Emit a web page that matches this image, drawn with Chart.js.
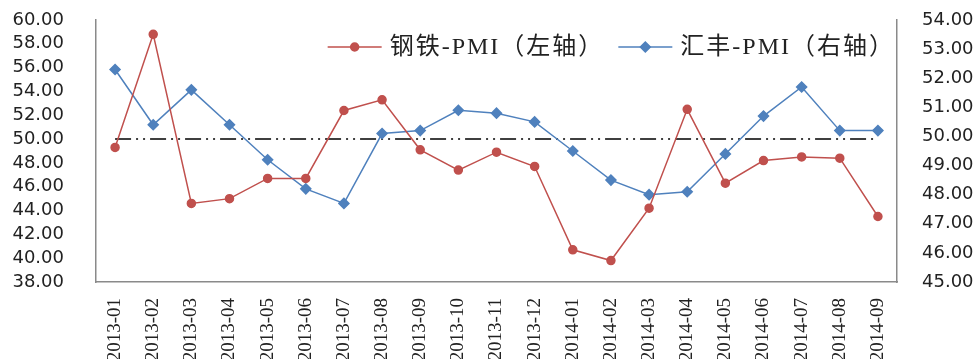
<!DOCTYPE html>
<html lang="zh">
<head>
<meta charset="utf-8">
<title>钢铁PMI与汇丰PMI</title>
<script src="https://cdn.jsdelivr.net/npm/chart.js"></script>
<style>
  html, body { margin: 0; padding: 0; background: #fff; }
  #pmiChart { display: block; }
</style>
</head>
<body>
<canvas id="pmiChart" width="978" height="359"></canvas>
<script>
  const months = [
    '2013-01', '2013-02', '2013-03', '2013-04', '2013-05', '2013-06', '2013-07',
    '2013-08', '2013-09', '2013-10', '2013-11', '2013-12', '2014-01', '2014-02',
    '2014-03', '2014-04', '2014-05', '2014-06', '2014-07', '2014-08', '2014-09'
  ];
  // 钢铁PMI, left axis
  const steelPmi = [49.3, 58.8, 44.6, 45.0, 46.7, 46.7, 52.4, 53.3, 49.1, 47.4, 48.9,
                    47.7, 40.7, 39.8, 44.2, 52.5, 46.3, 48.2, 48.5, 48.4, 43.5];
  // 汇丰PMI, right axis
  const hsbcPmi = [52.3, 50.4, 51.6, 50.4, 49.2, 48.2, 47.7, 50.1, 50.2, 50.9, 50.8,
                   50.5, 49.5, 48.5, 48.0, 48.1, 49.4, 50.7, 51.7, 50.2, 50.2];
  // 50 = boom/bust line
  const neutralLine = months.map(() => 50);
  const leftRange = [38, 60, 2];   // min, max, step
  const rightRange = [45, 54, 1];

  const red = '#C0504D';
  const blue = '#4F81BD';
  const tickFont = { family: "'DejaVu Sans', Verdana, sans-serif", size: 18 };

  // no extra room above/below the plot for the end tick labels
  function pinAxis(width) {
    return scale => {
      scale.width = width;
      scale.paddingTop = 0;
      scale.paddingBottom = 0;
    };
  }

  // line + marker legend drawn inside the plot, top right
  const lineLegend = {
    id: 'lineLegend',
    afterDraw(chart) {
      const ctx = chart.ctx;
      const items = chart.data.datasets.filter(d => d.showInLegend);
      const lineLen = 54, gap = 8, itemGap = 14;
      const y = 47;
      ctx.save();
      ctx.font = "24px 'Liberation Serif', 'Noto Sans CJK SC', serif";
      ctx.letterSpacing = '2px';
      ctx.textBaseline = 'middle';
      let total = 0;
      items.forEach((d, i) => {
        total += lineLen + gap + ctx.measureText(d.label).width + (i ? itemGap : 0);
      });
      let x = chart.chartArea.right - 2 - total;
      items.forEach(d => {
        ctx.strokeStyle = d.borderColor;
        ctx.fillStyle = d.pointBackgroundColor;
        ctx.lineWidth = d.borderWidth;
        ctx.beginPath();
        ctx.moveTo(x, y);
        ctx.lineTo(x + lineLen, y);
        ctx.stroke();
        Chart.helpers.drawPoint(ctx, { pointStyle: d.pointStyle, radius: d.pointRadius, borderWidth: 1 }, x + lineLen / 2, y);
        x += lineLen + gap;
        ctx.fillStyle = '#222';
        ctx.fillText(d.label, x, y + 1);
        x += ctx.measureText(d.label).width + itemGap;
      });
      ctx.restore();
    }
  };

  new Chart(document.getElementById('pmiChart'), {
    type: 'line',
    data: {
      labels: months,
      datasets: [
        {
          label: '钢铁-PMI（左轴）',
          data: steelPmi,
          yAxisID: 'y',
          showInLegend: true,
          borderColor: red,
          backgroundColor: red,
          pointBackgroundColor: red,
          pointBorderColor: red,
          borderWidth: 1.5,
          pointStyle: 'circle',
          pointRadius: 4,
          tension: 0
        },
        {
          label: '汇丰-PMI（右轴）',
          data: hsbcPmi,
          yAxisID: 'y1',
          showInLegend: true,
          borderColor: blue,
          backgroundColor: blue,
          pointBackgroundColor: blue,
          pointBorderColor: blue,
          borderWidth: 1.5,
          pointStyle: 'rectRot',
          pointRadius: 5,
          tension: 0
        },
        {
          label: '荣枯线',
          data: neutralLine,
          yAxisID: 'y',
          borderColor: '#000',
          borderWidth: 1.5,
          borderDash: [16, 5, 2, 5, 2, 5],
          pointRadius: 0
        }
      ]
    },
    options: {
      responsive: false,
      animation: false,
      devicePixelRatio: 1,
      layout: { padding: { top: 20, left: 0, right: 0, bottom: 0 } },
      plugins: {
        legend: { display: false },
        tooltip: { enabled: false }
      },
      scales: {
        x: {
          offset: true,
          grid: { display: false, drawTicks: false },
          border: { display: true, color: '#8a8a8a', width: 1.5 },
          ticks: {
            autoSkip: false,
            minRotation: 90,
            maxRotation: 90,
            padding: 16,
            color: '#222',
            font: { family: "'Liberation Serif', serif", size: 19 }
          },
          afterFit(scale) { scale.height = 77; }
        },
        y: {
          position: 'left',
          min: leftRange[0],
          max: leftRange[1],
          grid: { display: false, drawTicks: false },
          border: { display: true, color: '#8a8a8a', width: 1.5 },
          ticks: {
            autoSkip: false,
            stepSize: leftRange[2],
            padding: 32,
            color: '#222',
            font: tickFont,
            callback: v => v.toFixed(2)
          },
          afterFit: pinAxis(96)
        },
        y1: {
          position: 'right',
          min: rightRange[0],
          max: rightRange[1],
          grid: { display: false, drawTicks: false },
          border: { display: true, color: '#8a8a8a', width: 1.5 },
          ticks: {
            autoSkip: false,
            stepSize: rightRange[2],
            padding: 25,
            color: '#222',
            font: tickFont,
            callback: v => v.toFixed(2)
          },
          afterFit: pinAxis(81)
        }
      }
    },
    plugins: [lineLegend]
  });
</script>
</body>
</html>
